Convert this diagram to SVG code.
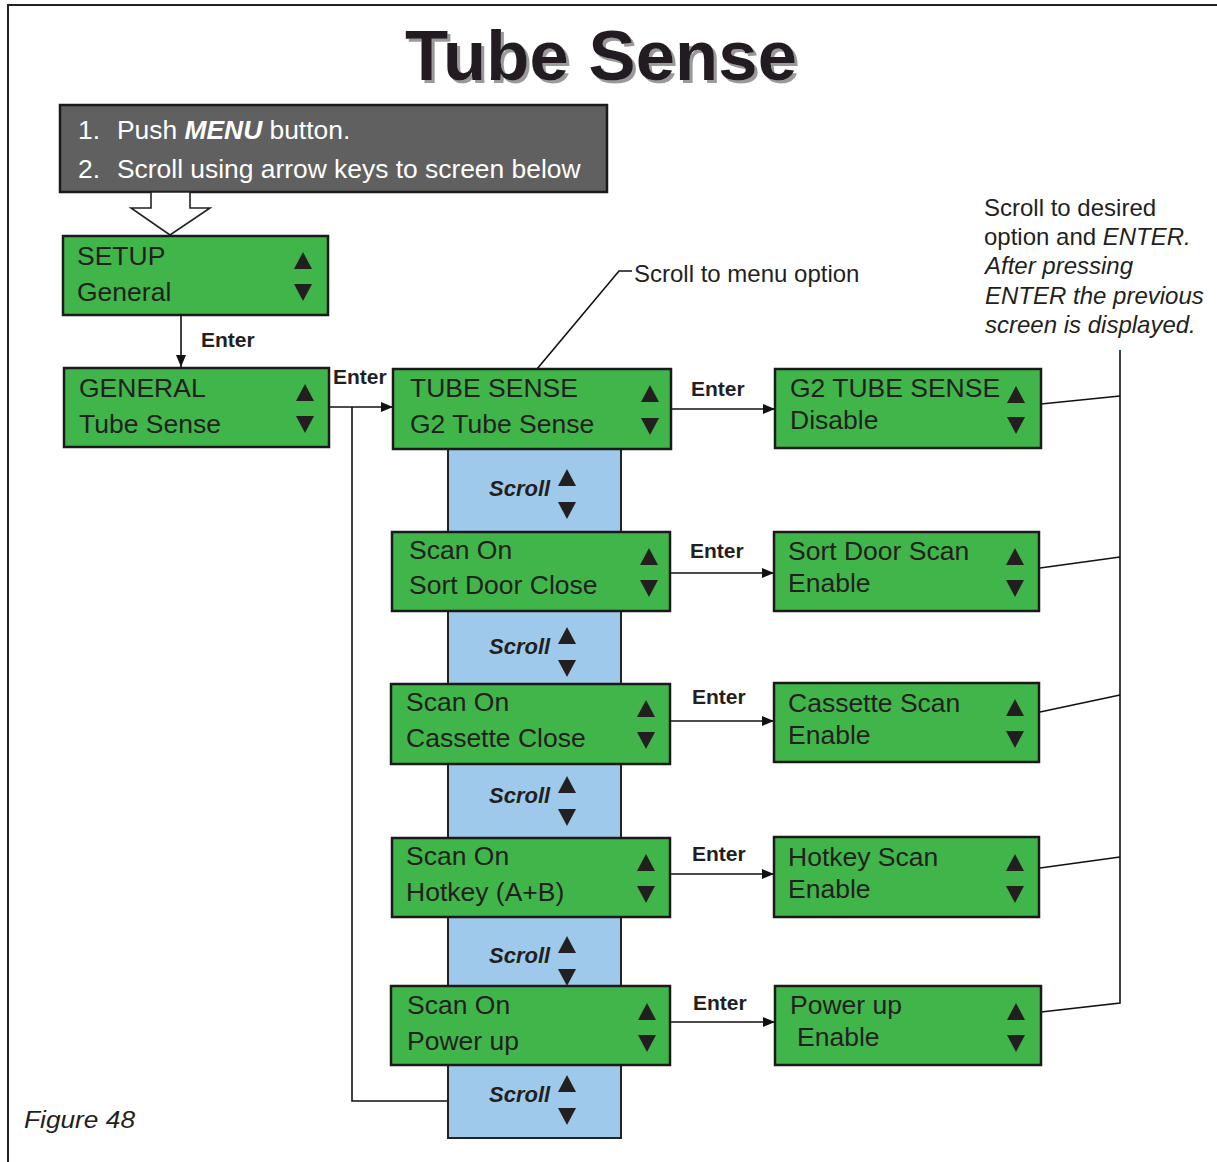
<svg xmlns="http://www.w3.org/2000/svg" width="1217" height="1162" viewBox="0 0 1217 1162">
<style>
.box{fill:#3fb54a;stroke:#1a1a1a;stroke-width:2.5}
.gray{fill:#606060;stroke:#1a1a1a;stroke-width:2.5}
.blue{fill:#9fc9ea;stroke:#222;stroke-width:2}
.t{font-family:"Liberation Sans",Arial,sans-serif;font-size:26.5px;fill:#231f20}
.w{font-family:"Liberation Sans",Arial,sans-serif;font-size:26.4px;fill:#ffffff}
.en{font-family:"Liberation Sans",Arial,sans-serif;font-size:21px;font-weight:bold;fill:#231f20}
.sc{font-family:"Liberation Sans",Arial,sans-serif;font-size:22px;font-weight:bold;font-style:italic;fill:#231f20}
.note{font-family:"Liberation Sans",Arial,sans-serif;font-size:24px;fill:#231f20}
.ln{fill:none;stroke:#111;stroke-width:1.6}
.tri{fill:#231f20}
</style>
<defs>
<path id="up" d="M0,-9 L9,8 L-9,8 Z"/>
<path id="dn" d="M0,9 L9,-8 L-9,-8 Z"/>
<marker id="ah" viewBox="0 0 12 10" refX="12" refY="5" markerWidth="12" markerHeight="10" markerUnits="userSpaceOnUse" orient="auto">
<path d="M0,0 L12,5 L0,10 Z" fill="#111"/>
</marker>
<filter id="shadow" x="-5%" y="-10%" width="110%" height="130%">
<feOffset in="SourceAlpha" dx="3" dy="3" result="off"/>
<feFlood flood-color="#9a9a9a"/>
<feComposite in2="off" operator="in" result="sh"/>
<feMerge><feMergeNode in="sh"/><feMergeNode in="SourceGraphic"/></feMerge>
</filter>
</defs>
<rect width="1217" height="1162" fill="#ffffff"/>
<path d="M8,1162 L8,5 L1217,5" fill="none" stroke="#222" stroke-width="2"/>

<g id="title">
<text x="601" y="80" text-anchor="middle" font-family="'Liberation Sans',Arial,sans-serif" font-size="70" font-weight="bold" fill="#231f20" filter="url(#shadow)" textLength="392" lengthAdjust="spacingAndGlyphs">Tube Sense</text>
</g>

<g id="instructions">
<rect class="gray" x="60" y="105" width="547" height="87"/>
<text class="w" x="78" y="139">1.</text>
<text class="w" x="117" y="139">Push <tspan font-weight="bold" font-style="italic">MENU</tspan> button.</text>
<text class="w" x="78" y="178">2.</text>
<text class="w" x="117" y="178">Scroll using arrow keys to screen below</text>
</g>

<g id="blue-scroll">
<rect class="blue" x="448" y="445" width="173" height="693"/>
</g>

<g id="connectors">
<polygon points="151,192 151,208 131,208 170,235 210,208 190,208 190,192" fill="#ffffff" stroke="#222" stroke-width="1.6"/>
<line class="ln" x1="181" y1="315" x2="181" y2="367" marker-end="url(#ah)"/>
<text class="en" x="201" y="347">Enter</text>
<line class="ln" x1="329" y1="407" x2="393" y2="407" marker-end="url(#ah)"/>
<text class="en" x="333" y="384">Enter</text>
<polyline class="ln" points="352,407 352,1101 447,1101"/>
<line class="ln" x1="671" y1="409" x2="775" y2="409" marker-end="url(#ah)"/>
<text class="en" x="691" y="396">Enter</text>
<line class="ln" x1="670" y1="573" x2="774" y2="573" marker-end="url(#ah)"/>
<text class="en" x="690" y="558">Enter</text>
<line class="ln" x1="670" y1="721" x2="774" y2="721" marker-end="url(#ah)"/>
<text class="en" x="692" y="704">Enter</text>
<line class="ln" x1="670" y1="874" x2="774" y2="874" marker-end="url(#ah)"/>
<text class="en" x="692" y="861">Enter</text>
<line class="ln" x1="670" y1="1022" x2="775" y2="1022" marker-end="url(#ah)"/>
<text class="en" x="693" y="1010">Enter</text>
<polyline class="ln" points="537,369 619,271 632,271"/>
<polyline class="ln" points="1120,350 1120,1003 1041,1012"/>
<line class="ln" x1="1041" y1="404" x2="1120" y2="396"/>
<line class="ln" x1="1040" y1="568" x2="1120" y2="557"/>
<line class="ln" x1="1040" y1="712" x2="1120" y2="695"/>
<line class="ln" x1="1040" y1="868" x2="1120" y2="857"/>
</g>

<g id="scroll-labels">
<text class="sc" x="489" y="496">Scroll</text><use href="#up" class="tri" x="567" y="478"/><use href="#dn" class="tri" x="567" y="510"/>
<text class="sc" x="489" y="654">Scroll</text><use href="#up" class="tri" x="567" y="636"/><use href="#dn" class="tri" x="567" y="668"/>
<text class="sc" x="489" y="803">Scroll</text><use href="#up" class="tri" x="567" y="785"/><use href="#dn" class="tri" x="567" y="817"/>
<text class="sc" x="489" y="963">Scroll</text><use href="#up" class="tri" x="567" y="945"/><use href="#dn" class="tri" x="567" y="977"/>
<text class="sc" x="489" y="1102">Scroll</text><use href="#up" class="tri" x="567" y="1084"/><use href="#dn" class="tri" x="567" y="1116"/>
</g>

<g id="setup">
<rect class="box" x="63" y="236" width="265" height="79"/>
<text class="t" x="77" y="265">SETUP</text><text class="t" x="77" y="301">General</text>
<use href="#up" class="tri" x="303" y="261"/><use href="#dn" class="tri" x="303" y="292"/>
</g>
<g id="general">
<rect class="box" x="64" y="368" width="265" height="79"/>
<text class="t" x="79" y="397">GENERAL</text><text class="t" x="79" y="433">Tube Sense</text>
<use href="#up" class="tri" x="305" y="393"/><use href="#dn" class="tri" x="305" y="424"/>
</g>

<g id="tube-sense">
<rect class="box" x="393" y="369" width="278" height="80"/>
<text class="t" x="410" y="397">TUBE SENSE</text><text class="t" x="410" y="433">G2 Tube Sense</text>
<use href="#up" class="tri" x="650" y="394"/><use href="#dn" class="tri" x="650" y="426"/>
</g>
<g id="scan-sort-door">
<rect class="box" x="392" y="532" width="278" height="79"/>
<text class="t" x="409" y="559">Scan On</text><text class="t" x="409" y="594">Sort Door Close</text>
<use href="#up" class="tri" x="649" y="557"/><use href="#dn" class="tri" x="649" y="588"/>
</g>
<g id="scan-cassette">
<rect class="box" x="391" y="684" width="279" height="80"/>
<text class="t" x="406" y="711">Scan On</text><text class="t" x="406" y="747">Cassette Close</text>
<use href="#up" class="tri" x="646" y="709"/><use href="#dn" class="tri" x="646" y="740"/>
</g>
<g id="scan-hotkey">
<rect class="box" x="392" y="838" width="278" height="79"/>
<text class="t" x="406" y="865">Scan On</text><text class="t" x="406" y="901">Hotkey (A+B)</text>
<use href="#up" class="tri" x="646" y="863"/><use href="#dn" class="tri" x="646" y="894"/>
</g>
<g id="scan-power">
<rect class="box" x="391" y="986" width="279" height="79"/>
<text class="t" x="407" y="1014">Scan On</text><text class="t" x="407" y="1050">Power up</text>
<use href="#up" class="tri" x="647" y="1012"/><use href="#dn" class="tri" x="647" y="1043"/>
</g>

<g id="g2-tube-sense">
<rect class="box" x="775" y="369" width="266" height="79"/>
<text class="t" x="790" y="397">G2 TUBE SENSE</text><text class="t" x="790" y="429">Disable</text>
<use href="#up" class="tri" x="1016" y="395"/><use href="#dn" class="tri" x="1016" y="425"/>
</g>
<g id="sort-door-scan">
<rect class="box" x="774" y="532" width="265" height="79"/>
<text class="t" x="788" y="560">Sort Door Scan</text><text class="t" x="788" y="592">Enable</text>
<use href="#up" class="tri" x="1015" y="557"/><use href="#dn" class="tri" x="1015" y="588"/>
</g>
<g id="cassette-scan">
<rect class="box" x="774" y="683" width="265" height="79"/>
<text class="t" x="788" y="712">Cassette Scan</text><text class="t" x="788" y="744">Enable</text>
<use href="#up" class="tri" x="1015" y="708"/><use href="#dn" class="tri" x="1015" y="739"/>
</g>
<g id="hotkey-scan">
<rect class="box" x="774" y="837" width="265" height="80"/>
<text class="t" x="788" y="866">Hotkey Scan</text><text class="t" x="788" y="898">Enable</text>
<use href="#up" class="tri" x="1015" y="863"/><use href="#dn" class="tri" x="1015" y="894"/>
</g>
<g id="power-up-enable">
<rect class="box" x="775" y="986" width="266" height="79"/>
<text class="t" x="790" y="1014">Power up</text><text class="t" x="797" y="1046">Enable</text>
<use href="#up" class="tri" x="1016" y="1012"/><use href="#dn" class="tri" x="1016" y="1043"/>
</g>

<g id="notes">
<text class="note" x="634" y="282">Scroll to menu option</text>
<text class="note" x="984" y="216">Scroll to desired</text>
<text class="note" x="984" y="245">option and <tspan font-style="italic">ENTER.</tspan></text>
<text class="note" x="985" y="274" font-style="italic">After pressing</text>
<text class="note" x="985" y="304" font-style="italic">ENTER the previous</text>
<text class="note" x="985" y="333" font-style="italic">screen is displayed.</text>
<text class="note" x="24" y="1128" font-style="italic" font-size="27" textLength="111" lengthAdjust="spacingAndGlyphs">Figure 48</text>
</g>
</svg>
